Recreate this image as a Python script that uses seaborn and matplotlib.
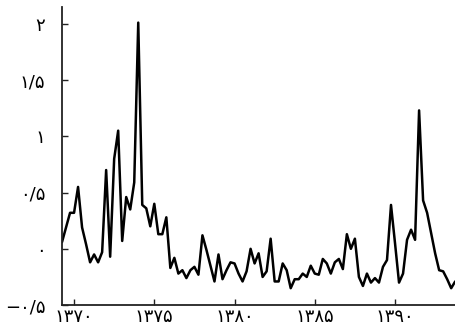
import numpy as np
import pandas as pd
import matplotlib
matplotlib.use("Agg")
import matplotlib.pyplot as plt
import seaborn as sns

# quarterly series, first point at 1369.25
start_year = 1369.25
values = [
    0.06, 0.19, 0.32, 0.32, 0.55, 0.19, 0.04, -0.12, -0.05, -0.12,
    -0.03, 0.70, -0.07, 0.80, 1.05, 0.07, 0.46, 0.35, 0.59, 2.01,
    0.39, 0.36, 0.20, 0.40, 0.13, 0.13, 0.28, -0.17, -0.08, -0.22,
    -0.19, -0.26, -0.19, -0.16, -0.23, 0.12, -0.01, -0.15, -0.29, -0.05,
    -0.27, -0.19, -0.12, -0.13, -0.22, -0.29, -0.20, 0.00, -0.13, -0.04,
    -0.25, -0.20, 0.09, -0.29, -0.29, -0.13, -0.19, -0.35, -0.27, -0.27,
    -0.22, -0.25, -0.15, -0.22, -0.23, -0.09, -0.13, -0.22, -0.12, -0.09,
    -0.18, 0.13, 0.00, 0.09, -0.25, -0.33, -0.22, -0.30, -0.26, -0.30,
    -0.16, -0.10, 0.39, 0.05, -0.30, -0.22, 0.08, 0.17, 0.08, 1.23,
    0.43, 0.32, 0.14, -0.04, -0.19, -0.20, -0.27, -0.35, -0.29,
]
years = [start_year + 0.25 * i for i in range(len(values))]

x_ticks = [1370, 1375, 1380, 1385, 1390]
x_labels = ["۱۳۷۰", "۱۳۷۵", "۱۳۸۰", "۱۳۸۵", "۱۳۹۰"]
y_ticks = [-0.5, 0, 0.5, 1, 1.5, 2]
y_labels = ["−۰/۵", "۰", "۰/۵", "۱", "۱/۵", "۲"]

df = pd.DataFrame({"year": years, "value": values})

sns.set_style("ticks")
plt.rcParams["font.family"] = ["DejaVu Sans"]

fig = plt.figure(figsize=(4.56, 3.27), dpi=100)
ax = fig.add_axes([0.136, 0.067, 0.864, 0.912])

sns.lineplot(data=df, x="year", y="value", color="black", linewidth=1.8, ax=ax)

ax.set_xlim(1369.25, 1393.8)
ax.set_ylim(-0.5, 2.15)
ax.set_xticks(x_ticks)
ax.set_xticklabels(x_labels)
ax.set_yticks(y_ticks)
ax.set_yticklabels(y_labels)
ax.set_xlabel("")
ax.set_ylabel("")

sns.despine(ax=ax)
for side in ["left", "bottom"]:
    ax.spines[side].set_color("#222222")
    ax.spines[side].set_linewidth(1.3)
ax.tick_params(axis="both", direction="in", length=4, width=1.0,
               color="#222222", labelsize=13, labelcolor="black")
ax.tick_params(axis="y", pad=12)
ax.tick_params(axis="x", pad=2)

fig.savefig("out.png", dpi=100)
